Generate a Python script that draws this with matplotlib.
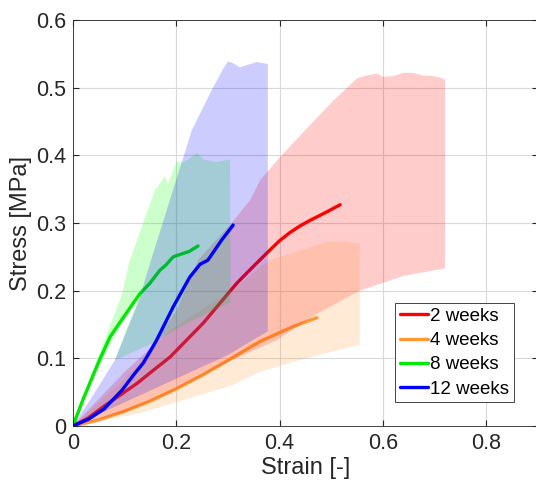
import matplotlib
matplotlib.use("Agg")
import matplotlib.pyplot as plt

plt.rcParams['font.family'] = ['Liberation Sans', 'DejaVu Sans']

labels = ['2 weeks', '4 weeks', '8 weeks', '12 weeks']
line_colors = ['#ff0000', '#ff9933', '#00e600', '#0000ff']
band_colors = ['#ff0000', '#ff9933', '#00ff00', '#0000ff']

# mean curves (strain, stress)
red_x = [0, 0.03, 0.058, 0.09, 0.124, 0.155, 0.188, 0.22, 0.252, 0.285, 0.317, 0.348, 0.381, 0.40, 0.42, 0.44, 0.459, 0.49, 0.517]
red_y = [0, 0.012, 0.028, 0.045, 0.063, 0.082, 0.102, 0.127, 0.152, 0.182, 0.211, 0.235, 0.26, 0.274, 0.286, 0.296, 0.304, 0.316, 0.327]
orange_x = [0, 0.05, 0.1, 0.15, 0.2, 0.25, 0.3, 0.362, 0.426, 0.472]
orange_y = [0, 0.009, 0.022, 0.037, 0.055, 0.075, 0.097, 0.125, 0.147, 0.16]
green_x = [0, 0.02, 0.05, 0.072, 0.1, 0.118, 0.13, 0.149, 0.16, 0.168, 0.18, 0.194, 0.213, 0.225, 0.242]
green_y = [0, 0.04, 0.095, 0.132, 0.163, 0.183, 0.196, 0.211, 0.222, 0.23, 0.238, 0.25, 0.255, 0.258, 0.266]
blue_x = [0, 0.03, 0.06, 0.095, 0.12, 0.136, 0.153, 0.162, 0.194, 0.226, 0.246, 0.261, 0.288, 0.31]
blue_y = [0, 0.01, 0.025, 0.053, 0.078, 0.093, 0.115, 0.127, 0.176, 0.22, 0.239, 0.245, 0.275, 0.297]

# shaded bands as outlines: upper edge left->right, then lower edge right->left
red_band_x = [0, 0.05, 0.1, 0.15, 0.2, 0.242, 0.307, 0.343, 0.362, 0.4, 0.459, 0.503, 0.55, 0.569, 0.588,
              0.6, 0.62, 0.64, 0.658, 0.677, 0.697, 0.71, 0.72,
              0.72, 0.64, 0.555, 0.47, 0.395, 0.3, 0.19, 0.1, 0]
red_band_y = [0, 0.04, 0.08, 0.115, 0.17, 0.245, 0.30, 0.334, 0.363, 0.397, 0.445, 0.48, 0.514, 0.518, 0.521,
              0.516, 0.517, 0.522, 0.522, 0.518, 0.517, 0.515, 0.512,
              0.233, 0.222, 0.2, 0.165, 0.127, 0.095, 0.05, 0.02, 0]
orange_band_x = [0, 0.1, 0.188, 0.307, 0.38, 0.45, 0.49, 0.52, 0.555,
                 0.555, 0.45, 0.362, 0.307, 0.2, 0.128, 0]
orange_band_y = [0, 0.07, 0.142, 0.2, 0.245, 0.262, 0.272, 0.273, 0.27,
                 0.12, 0.1, 0.08, 0.06, 0.035, 0.019, 0]
green_band_x = [0, 0.05, 0.095, 0.11, 0.159, 0.170, 0.178, 0.184, 0.2, 0.213, 0.225, 0.24, 0.252, 0.278, 0.304,
                0.305, 0.25, 0.2, 0.153, 0.081, 0.128, 0.085, 0.04, 0]
green_band_y = [0, 0.105, 0.195, 0.245, 0.349, 0.36, 0.37, 0.357, 0.39, 0.39, 0.395, 0.404, 0.394, 0.39, 0.394,
                0.183, 0.163, 0.143, 0.122, 0.097, 0.19, 0.14, 0.072, 0]
blue_band_x = [0, 0.037, 0.081, 0.128, 0.149, 0.23, 0.271, 0.29, 0.30, 0.31, 0.323, 0.356, 0.377,
               0.377, 0.3, 0.2, 0.1, 0]
blue_band_y = [0, 0.043, 0.097, 0.186, 0.240, 0.437, 0.5, 0.527, 0.539, 0.536, 0.53, 0.538, 0.535,
               0.14, 0.105, 0.07, 0.035, 0]

means = [(red_x, red_y), (orange_x, orange_y), (green_x, green_y), (blue_x, blue_y)]
bands = [(red_band_x, red_band_y), (orange_band_x, orange_band_y),
         (green_band_x, green_band_y), (blue_band_x, blue_band_y)]
line_z = [2, 2, 2, 4]

x_ticks = [0, 0.2, 0.4, 0.6, 0.8]
x_tick_labels = ['0', '0.2', '0.4', '0.6', '0.8']
y_ticks = [0, 0.1, 0.2, 0.3, 0.4, 0.5, 0.6]
y_tick_labels = ['0', '0.1', '0.2', '0.3', '0.4', '0.5', '0.6']

fig = plt.figure(figsize=(5.36, 4.88), dpi=100)
ax = fig.add_axes([0.136, 0.127, 0.868, 0.832])

for (mx, my), c, lab, z in zip(means, line_colors, labels, line_z):
    ax.plot(mx, my, color=c, lw=2.4, label=lab, zorder=z, solid_capstyle='round')

for (bx, by), c in zip(bands, band_colors):
    ax.fill(bx, by, color=c, alpha=0.2, lw=0, zorder=3)

ax.set_xlim(0, 0.9)
ax.set_ylim(0, 0.6)
ax.set_xticks(x_ticks)
ax.set_xticklabels(x_tick_labels)
ax.set_yticks(y_ticks)
ax.set_yticklabels(y_tick_labels)
ax.tick_params(direction='in', length=4, labelsize=15.5, top=True, right=True,
               color='#262626', labelcolor='#262626', pad=5)
ax.grid(True, color='#d9d9d9', lw=0.8, zorder=0)
ax.set_axisbelow(True)
for s in ax.spines.values():
    s.set_color('#262626')
    s.set_linewidth(0.6)
ax.spines['right'].set_visible(False)

ax.set_xlabel('Strain [-]', fontsize=17, color='#262626', labelpad=2)
ax.set_ylabel('Stress [MPa]', fontsize=17, color='#262626', labelpad=3)

leg = ax.legend(loc='upper left', bbox_to_anchor=(0.692, 0.303), borderaxespad=0,
                fontsize=13.5, handlelength=1.5, handletextpad=0.15, labelspacing=0.38,
                borderpad=0.25, fancybox=False, framealpha=1)
leg.get_frame().set_edgecolor('#262626')
leg.get_frame().set_linewidth(0.6)
leg.set_zorder(5)

fig.savefig('out.png', dpi=100)
